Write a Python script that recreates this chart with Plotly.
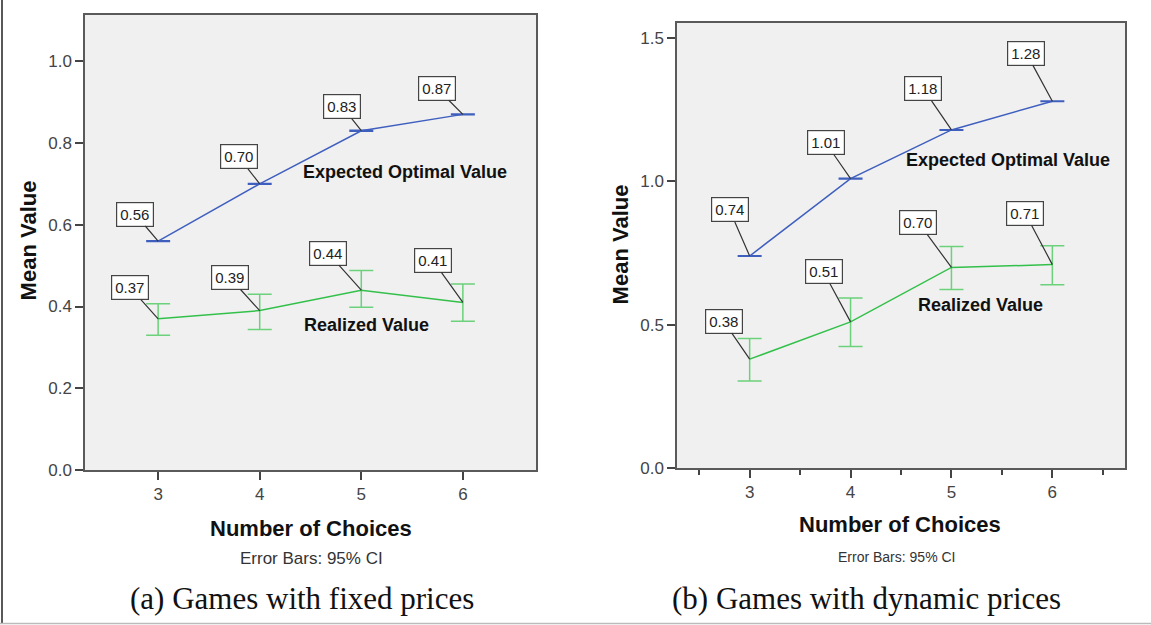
import plotly.graph_objects as go

# ---------------- data ----------------
choices = [3, 4, 5, 6]

fixed_expected = [0.56, 0.70, 0.83, 0.87]
fixed_expected_ci_low = [0.559, 0.699, 0.829, 0.869]
fixed_expected_ci_high = [0.561, 0.701, 0.831, 0.871]
fixed_realized = [0.37, 0.39, 0.44, 0.41]
fixed_realized_ci_low = [0.330, 0.344, 0.398, 0.364]
fixed_realized_ci_high = [0.407, 0.430, 0.488, 0.455]

dynamic_expected = [0.74, 1.01, 1.18, 1.28]
dynamic_expected_ci_low = [0.739, 1.009, 1.179, 1.279]
dynamic_expected_ci_high = [0.741, 1.011, 1.181, 1.281]
dynamic_realized = [0.38, 0.51, 0.70, 0.71]
dynamic_realized_ci_low = [0.304, 0.424, 0.623, 0.640]
dynamic_realized_ci_high = [0.452, 0.593, 0.773, 0.776]

fixed_yticks = [0.0, 0.2, 0.4, 0.6, 0.8, 1.0]
dynamic_yticks = [0.0, 0.5, 1.0, 1.5]

# label box offsets (pixels) -- styling only
fixed_exp_off = [(-23, -27), (-21, -27), (-19, -24), (-26, -26)]
fixed_real_off = [(-28, -31), (-30, -33), (-33, -37), (-30, -42)]
dyn_exp_off = [(-20, -46), (-25, -36), (-28, -41), (-26, -48)]
dyn_real_off = [(-26, -38), (-27, -50), (-33, -45), (-27, -51)]

W, H = 1151, 625          # reference frame used for positions
FIG_H = 636               # rendered height (compensates viewport squeeze)
BLUE = "#3f5fbf"
GREEN = "#33c04a"
GREEN_ERR = "#6bd17a"
FONT = "Liberation Sans, Arial, sans-serif"
SERIF = "Liberation Serif, DejaVu Serif, serif"


def px(x):
    return x / W


def py(y):
    return 1 - y / H


def err(vals, lo, hi):
    return dict(type="data", symmetric=False,
                array=[h - v for v, h in zip(vals, hi)],
                arrayminus=[v - l for v, l in zip(vals, lo)])


fig = go.Figure()

panels = [
    ("x", "y", fixed_expected, fixed_expected_ci_low, fixed_expected_ci_high,
     fixed_realized, fixed_realized_ci_low, fixed_realized_ci_high,
     fixed_exp_off, fixed_real_off),
    ("x2", "y2", dynamic_expected, dynamic_expected_ci_low, dynamic_expected_ci_high,
     dynamic_realized, dynamic_realized_ci_low, dynamic_realized_ci_high,
     dyn_exp_off, dyn_real_off),
]

annotations = []
for xa, ya, ev, elo, ehi, rv, rlo, rhi, eoff, roff in panels:
    fig.add_trace(go.Scatter(
        x=choices, y=ev, mode="lines", xaxis=xa, yaxis=ya,
        line=dict(color=BLUE, width=1.5),
        error_y=dict(err(ev, elo, ehi), color=BLUE, thickness=1.5, width=12),
        showlegend=False, hoverinfo="skip"))
    fig.add_trace(go.Scatter(
        x=choices, y=rv, mode="lines", xaxis=xa, yaxis=ya,
        line=dict(color=GREEN, width=1.5),
        error_y=dict(err(rv, rlo, rhi), color=GREEN_ERR, thickness=1.5, width=12),
        showlegend=False, hoverinfo="skip"))
    for vals, offs in ((ev, eoff), (rv, roff)):
        for c, v, (ox, oy) in zip(choices, vals, offs):
            annotations.append(dict(
                x=c, y=v, xref=xa, yref=ya, ax=ox, ay=oy,
                text=f"{v:.2f}", showarrow=True, arrowhead=0,
                arrowwidth=1.2, arrowcolor="#333333", standoff=0,
                bgcolor="white", bordercolor="#444444", borderwidth=1.2,
                borderpad=3, font=dict(family=FONT, size=15, color="#222222")))


def text_ann(text, x, y, size, family=FONT, color="#111111", angle=0):
    return dict(x=px(x), y=py(y), xref="paper", yref="paper", text=text,
                showarrow=False, xanchor="center", yanchor="middle",
                textangle=angle, font=dict(family=family, size=size, color=color))


# series labels
for text, x, y in [("Expected Optimal Value", 405, 172), ("Realized Value", 366, 324),
                   ("Expected Optimal Value", 1008, 160), ("Realized Value", 980, 305)]:
    annotations.append(text_ann(f"<b>{text}</b>", x, y, 18))

# axis titles and notes
for x, y in [(28, 240), (620, 244)]:
    annotations.append(text_ann("<b>Mean Value</b>", x, y, 22, angle=-90))
for x, y in [(311, 528), (900, 524)]:
    annotations.append(text_ann("<b>Number of Choices</b>", x, y, 22))
annotations.append(text_ann("Error Bars: 95% CI", 311, 558, 17, color="#333333"))
annotations.append(text_ann("Error Bars: 95% CI", 896, 556, 14, color="#333333"))
annotations.append(text_ann("(a) Games with fixed prices", 302, 598, 31, family=SERIF))
annotations.append(text_ann("(b) Games with dynamic prices", 866, 598, 31, family=SERIF))

tickfont = dict(family=FONT, size=17, color="#444444")
axis_common = dict(showline=True, mirror=True, linecolor="#5a5a5a", linewidth=1.5,
                   showgrid=False, zeroline=False, ticks="outside", ticklen=8,
                   tickcolor="#444444", tickwidth=1.5, tickfont=tickfont)

fig.update_layout(
    width=W, height=FIG_H, margin=dict(l=0, r=0, t=0, b=0),
    paper_bgcolor="white", plot_bgcolor="#f0f0f0",
    xaxis=dict(axis_common, domain=[px(85), px(536)], range=[2.28, 6.72],
               tickvals=choices, ticktext=[str(c) for c in choices], anchor="y"),
    yaxis=dict(axis_common, domain=[py(469.3), py(15)], range=[0, 1.113],
               tickvals=fixed_yticks, ticktext=[f"{t:.1f}" for t in fixed_yticks],
               anchor="x"),
    xaxis2=dict(axis_common, domain=[px(677), px(1125)], range=[2.28, 6.72],
                tickvals=choices, ticktext=[str(c) for c in choices], anchor="y2",
                minor=dict(ticks="outside", ticklen=5, tick0=2.5, dtick=1,
                           tickcolor="#444444", tickwidth=1.5)),
    yaxis2=dict(axis_common, domain=[py(467.3), py(22.7)], range=[0, 1.554],
                tickvals=dynamic_yticks, ticktext=[f"{t:.1f}" for t in dynamic_yticks],
                anchor="x2"),
    annotations=annotations,
    shapes=[
        dict(type="line", xref="paper", yref="paper", x0=px(2), x1=px(2),
             y0=py(0), y1=py(622), line=dict(color="#222222", width=1.5)),
        dict(type="line", xref="paper", yref="paper", x0=0, x1=1,
             y0=py(622.5), y1=py(622.5), line=dict(color="#bbbbbb", width=1.5)),
    ],
)

fig.write_html("out.html", config={"displayModeBar": False},
               post_script="document.body.style.margin='0';document.body.style.overflow='hidden';")
